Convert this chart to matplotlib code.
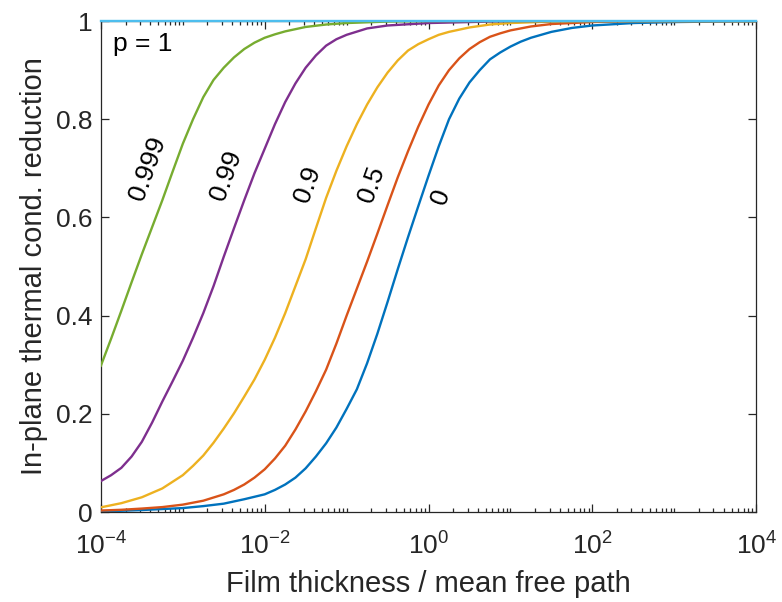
import numpy as np
import matplotlib
matplotlib.use("Agg")
import matplotlib.pyplot as plt
from matplotlib.ticker import FixedLocator, LogLocator, NullFormatter, FormatStrFormatter

plt.rcParams['font.family'] = ['Liberation Sans', 'DejaVu Sans']
plt.rcParams['mathtext.fontset'] = 'custom'
plt.rcParams['mathtext.rm'] = 'Liberation Sans'
plt.rcParams['mathtext.default'] = 'regular'

# values: log10(thickness / mfp) and reduction factor
log_t_p0 = [-4.0, -3.75, -3.5, -3.25, -3.0, -2.75, -2.5, -2.25, -2.0, -1.875, -1.75, -1.625,
            -1.5, -1.375, -1.25, -1.125, -1.0, -0.875, -0.75, -0.625, -0.5, -0.375, -0.25,
            -0.125, 0.0, 0.125, 0.25, 0.375, 0.5, 0.625, 0.75, 0.875, 1.0, 1.125, 1.25, 1.5,
            1.75, 2.0, 2.5, 3.0, 4.0]
red_p0 = [0.001, 0.0025, 0.004, 0.006, 0.008, 0.012, 0.017, 0.026, 0.036, 0.045, 0.056, 0.07,
          0.089, 0.113, 0.14, 0.172, 0.21, 0.25, 0.303, 0.363, 0.428, 0.495, 0.56,
          0.623, 0.685, 0.745, 0.80, 0.842, 0.875, 0.90, 0.922, 0.936, 0.948, 0.958, 0.966,
          0.978, 0.986, 0.991, 0.996, 0.998, 1.0]

log_t_p05 = [-4.0, -3.75, -3.5, -3.25, -3.0, -2.75, -2.5, -2.375, -2.25, -2.125, -2.0, -1.875,
             -1.75, -1.625, -1.5, -1.375, -1.25, -1.125, -1.0, -0.875, -0.75, -0.625, -0.5,
             -0.375, -0.25, -0.125, 0.0, 0.125, 0.25, 0.375, 0.5, 0.625, 0.75, 0.875, 1.0,
             1.25, 1.5, 2.0, 2.5, 4.0]
red_p05 = [0.003, 0.0045, 0.007, 0.01, 0.015, 0.023, 0.036, 0.045, 0.056, 0.07, 0.087, 0.109,
           0.135, 0.168, 0.205, 0.246, 0.29, 0.343, 0.40, 0.455, 0.51, 0.567, 0.625,
           0.682, 0.735, 0.785, 0.83, 0.869, 0.90, 0.924, 0.943, 0.957, 0.968, 0.975, 0.981,
           0.989, 0.994, 0.998, 1.0, 1.0]

log_t_p09 = [-4.0, -3.75, -3.5, -3.25, -3.0, -2.875, -2.75, -2.625, -2.5, -2.375, -2.25, -2.125,
             -2.0, -1.875, -1.75, -1.625, -1.5, -1.375, -1.25, -1.125, -1.0, -0.875, -0.75,
             -0.625, -0.5, -0.375, -0.25, -0.125, 0.0, 0.125, 0.25, 0.5, 0.75, 1.0, 1.5, 2.0,
             4.0]
red_p09 = [0.0095, 0.018, 0.03, 0.048, 0.075, 0.094, 0.115, 0.141, 0.17, 0.201, 0.235, 0.27,
           0.31, 0.355, 0.405, 0.46, 0.515, 0.578, 0.64, 0.695, 0.745, 0.79, 0.83,
           0.865, 0.895, 0.92, 0.94, 0.953, 0.963, 0.972, 0.978, 0.987, 0.993, 0.996, 0.999,
           1.0, 1.0]

log_t_p099 = [-4.0, -3.875, -3.75, -3.625, -3.5, -3.375, -3.25, -3.125, -3.0, -2.875, -2.75,
              -2.625, -2.5, -2.375, -2.25, -2.125, -2.0, -1.875, -1.75, -1.625, -1.5, -1.375,
              -1.25, -1.125, -1.0, -0.75, -0.5, 0.0, 1.0, 4.0]
red_p099 = [0.063, 0.075, 0.09, 0.113, 0.143, 0.182, 0.225, 0.266, 0.308, 0.355, 0.405,
            0.46, 0.52, 0.578, 0.635, 0.69, 0.74, 0.79, 0.835, 0.873, 0.905, 0.93,
            0.95, 0.963, 0.972, 0.985, 0.991, 0.996, 1.0, 1.0]

log_t_p0999 = [-4.0, -3.875, -3.75, -3.625, -3.5, -3.375, -3.25, -3.125, -3.0, -2.875, -2.75,
               -2.625, -2.5, -2.375, -2.25, -2.125, -2.0, -1.875, -1.75, -1.5, -1.25, -1.0,
               -0.5, 0.0, 4.0]
red_p0999 = [0.298, 0.353, 0.41, 0.468, 0.525, 0.58, 0.635, 0.693, 0.75, 0.80, 0.845,
             0.88, 0.905, 0.926, 0.943, 0.956, 0.966, 0.973, 0.979, 0.988, 0.993, 0.996,
             0.999, 1.0, 1.0]

log_t_p1 = [-4.0, 4.0]
red_p1 = [1.0, 1.0]

curves = [
    (log_t_p0, red_p0, '#0072BD'),
    (log_t_p05, red_p05, '#D95319'),
    (log_t_p09, red_p09, '#EDB120'),
    (log_t_p099, red_p099, '#7E2F8E'),
    (log_t_p0999, red_p0999, '#77AC30'),
    (log_t_p1, red_p1, '#4DBEEE'),
]

# curve labels: text, log10 x, y
label_text = ['0.999', '0.99', '0.9', '0.5', '0']
label_logx = [-3.43, -2.47, -1.48, -0.695, 0.15]
label_y = [0.70, 0.686, 0.668, 0.668, 0.643]

fig = plt.figure(figsize=(7.82, 6.02), dpi=100)
ax = fig.add_axes([0.129, 0.1495, 0.838, 0.8155])

for lt, r, c in curves:
    ax.plot(np.power(10.0, lt), r, color=c, lw=1.7, clip_on=(c != '#4DBEEE'), zorder=3,
            solid_joinstyle='round')

for t, lx, ly in zip(label_text, label_logx, label_y):
    ax.text(10 ** lx, ly, t, rotation=70, rotation_mode='anchor', ha='center', va='center',
            fontsize=19, color='black')

ax.text(10 ** -3.85, 0.953, 'p = 1', ha='left', va='center', fontsize=19, color='black')

ax.set_xscale('log')
ax.set_xlim(1e-4, 1e4)
ax.set_ylim(0, 1)
ax.xaxis.set_major_locator(FixedLocator([1e-4, 1e-2, 1e0, 1e2, 1e4]))
ax.xaxis.set_minor_locator(LogLocator(base=10, subs=np.arange(1, 10), numticks=50))
ax.xaxis.set_minor_formatter(NullFormatter())
ax.set_yticks([0, 0.2, 0.4, 0.6, 0.8, 1.0])
ax.yaxis.set_major_formatter(FormatStrFormatter('%g'))

dark = '#262626'
for s in ax.spines.values():
    s.set_color(dark)
    s.set_linewidth(0.9)
ax.tick_params(which='both', direction='in', top=True, right=True, colors=dark,
               labelsize=19, width=0.9)
ax.tick_params(which='major', length=6, pad=6)
ax.tick_params(axis='x', which='major', pad=15)
ax.tick_params(which='minor', length=3)

ax.set_xlabel('Film thickness / mean free path', fontsize=21, color=dark, labelpad=7)
ax.set_ylabel('In-plane thermal cond. reduction', fontsize=21, color=dark, labelpad=6)

fig.savefig('out.png', dpi=100)
